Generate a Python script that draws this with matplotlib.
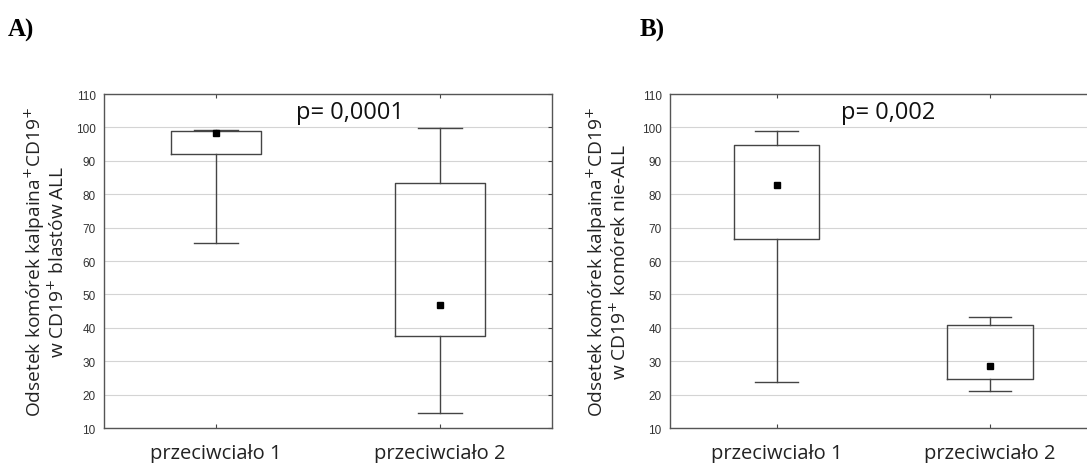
import matplotlib
matplotlib.use("Agg")
import matplotlib.pyplot as plt

# DANE
grupy = ['przeciwciało 1', 'przeciwciało 2']
pozycje = [1, 2]

# A) blasty ALL
a_mediana = [98.3, 46.8]
a_q1 = [92.0, 37.5]
a_q3 = [98.9, 83.5]
a_min = [65.4, 14.5]
a_max = [99.3, 99.8]
a_p = 'p= 0,0001'
a_ylabel = 'Odsetek komórek kalpaina$^{+}$CD19$^{+}$\nw CD19$^{+}$ blastów ALL'

# B) komórki nie-ALL
b_mediana = [82.8, 28.5]
b_q1 = [66.5, 24.6]
b_q3 = [94.7, 40.7]
b_min = [23.9, 21.0]
b_max = [98.8, 43.1]
b_p = 'p= 0,002'
b_ylabel = 'Odsetek komórek kalpaina$^{+}$CD19$^{+}$\nw CD19$^{+}$ komórek nie-ALL'

yticks = list(range(10, 111, 10))

LINIA = '#444444'
TEKST = ['Open Sans', 'DejaVu Sans']


def rysuj(ax, mediana, q1, q3, mn, mx, p_txt, ylabel, p_x):
    stats = []
    for i in range(len(grupy)):
        stats.append({'med': mediana[i], 'q1': q1[i], 'q3': q3[i],
                      'whislo': mn[i], 'whishi': mx[i], 'fliers': []})
    ax.bxp(stats, positions=pozycje, widths=0.4, capwidths=0.2,
           showfliers=False,
           boxprops=dict(color=LINIA, linewidth=1.0),
           whiskerprops=dict(color=LINIA, linewidth=1.0),
           capprops=dict(color=LINIA, linewidth=1.0),
           medianprops=dict(linewidth=0))
    ax.plot(pozycje, mediana, 's', color='black', markersize=5, zorder=5)

    ax.set_xlim(0.5, 2.5)
    ax.set_ylim(10, 110)
    ax.set_yticks(yticks)
    ax.set_xticks(pozycje)
    ax.set_xticklabels(grupy, family=TEKST, fontsize=14.5, color='#222222')
    for lab in ax.get_yticklabels():
        lab.set_family('Liberation Sans')
        lab.set_fontsize(8.5)
        lab.set_color('#333333')
    ax.yaxis.grid(True, color='#d4d4d4', linewidth=0.8)
    ax.set_axisbelow(True)
    ax.tick_params(axis='y', direction='in', length=3, left=False, right=True,
                   pad=6, color=LINIA)
    ax.tick_params(axis='x', direction='in', length=3, top=True, pad=11,
                   color=LINIA)
    for s in ax.spines.values():
        s.set_color('#555555')
        s.set_linewidth(1.0)
    ax.text(p_x, 0.946, p_txt, transform=ax.transAxes, ha='center',
            va='center', fontsize=17, family=TEKST, color='#111111')


fig = plt.figure(figsize=(10.87, 4.64), dpi=100)
axA = fig.add_axes([0.0957, 0.0754, 0.4121, 0.7198])
axB = fig.add_axes([0.6164, 0.0754, 0.3924, 0.7198])

rysuj(axA, a_mediana, a_q1, a_q3, a_min, a_max, a_p, a_ylabel, 0.549)
rysuj(axB, b_mediana, b_q1, b_q3, b_min, b_max, b_p, b_ylabel, 0.511)

fig.text(45 / 1087, 0.435, a_ylabel, rotation=90, ha='center', va='center',
         fontsize=13.8, family=TEKST, color='#222222', multialignment='center',
         linespacing=1.05)
fig.text(607 / 1087, 0.435, b_ylabel, rotation=90, ha='center', va='center',
         fontsize=13.8, family=TEKST, color='#222222', multialignment='center',
         linespacing=1.05)

fig.text(8 / 1087, 1 - 30 / 464, 'A)', ha='left', va='center', fontsize=18,
         family='Liberation Serif', weight='bold')
fig.text(640 / 1087, 1 - 30 / 464, 'B)', ha='left', va='center', fontsize=18,
         family='Liberation Serif', weight='bold')

fig.savefig('out.png', dpi=100)
